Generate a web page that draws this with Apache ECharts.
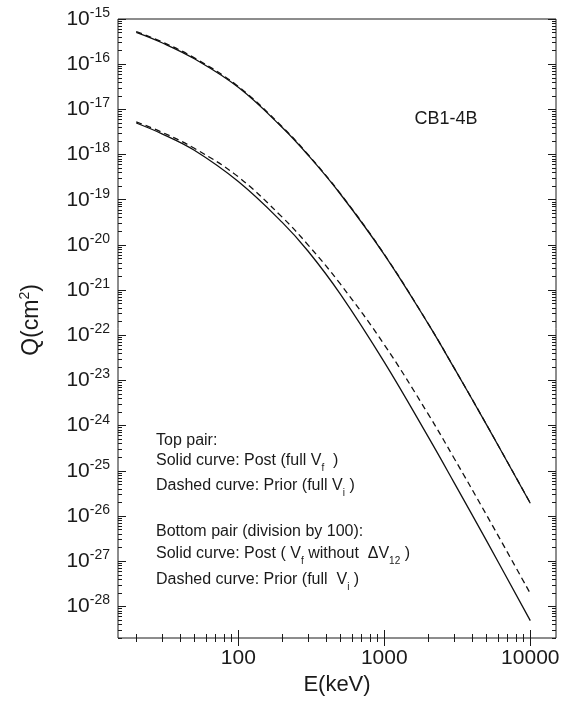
<!DOCTYPE html>
<html>
<head>
<meta charset="utf-8">
<script src="https://cdn.jsdelivr.net/npm/echarts@6/dist/echarts.min.js"></script>
<style>
  html, body { margin: 0; padding: 0; background: #fff; }
  #chart { width: 573px; height: 703px; }
</style>
</head>
<body>
<div id="chart"></div>
<script>
// ---------------- data ----------------
const energies = [20, 30, 50, 100, 200, 300, 500, 1000, 2000, 3000, 5000, 10000];
const topSolid  = [5.05e-16, 2.98e-16, 1.315e-16, 3.07e-17, 3.97e-18, 9.79e-19, 1.34e-19, 6.12e-21, 1.79e-22, 1.92e-23, 1.07e-24, 1.92e-26];
const topDashed = [5.29e-16, 3.12e-16, 1.377e-16, 3.21e-17, 4.11e-18, 1.006e-18, 1.368e-19, 6.20e-21, 1.80e-22, 1.93e-23, 1.075e-24, 1.93e-26];
const botSolid  = [4.99e-18, 2.88e-18, 1.242e-18, 2.52e-19, 3.155e-20, 7.33e-21, 8.15e-22, 2.547e-23, 5.64e-25, 5.58e-26, 2.89e-27, 4.84e-29];
const botDashed = [5.29e-18, 3.12e-18, 1.377e-18, 3.21e-19, 4.11e-20, 1.006e-20, 1.368e-21, 6.20e-23, 1.80e-24, 1.93e-25, 1.075e-26, 1.93e-28];

const xTickLabels = [100, 1000, 10000];
const xMinorDecades = [10, 100, 1000];
const yExponents = [-28, -27, -26, -25, -24, -23, -22, -21, -20, -19, -18, -17, -16, -15];
const yMinorExponents = [-29, -28, -27, -26, -25, -24, -23, -22, -21, -20, -19, -18, -17, -16];
const mantissas = [2, 3, 4, 5, 6, 7, 8, 9];

const X_MIN = 15, X_MAX = 15000, Y_MIN = 2e-29, Y_MAX = 1e-15;

// tick positions
const xMinor = [];
xMinorDecades.forEach(d => mantissas.forEach(m => { const v = m * d; if (v >= X_MIN && v <= X_MAX) xMinor.push(v); }));
const yMajor = yExponents.map(e => Number('1e' + e));
const yMinor = [];
yMinorExponents.forEach(e => mantissas.forEach(m => { const v = Number(m + 'e' + e); if (v >= Y_MIN && v <= Y_MAX) yMinor.push(v); }));

const FONT = 'Liberation Sans, Arial, Helvetica, sans-serif';
const INK = '#1a1a1a';

function xAx(pos, ticks, len, withLabels) {
  return {
    type: 'log', logBase: 10, min: X_MIN, max: X_MAX, position: pos,
    axisLine: { show: false },
    axisTick: { show: true, inside: true, length: len, customValues: ticks, lineStyle: { color: INK, width: 1 } },
    axisLabel: withLabels ? {
      show: true, customValues: xTickLabels, margin: 10,
      fontFamily: FONT, fontSize: 21, color: INK,
      formatter: v => String(Math.round(v))
    } : { show: false },
    splitLine: { show: false }, minorTick: { show: false }, minorSplitLine: { show: false },
    name: withLabels ? 'E(keV)' : '', nameLocation: 'middle', nameGap: 28,
    nameTextStyle: { fontFamily: FONT, fontSize: 22, color: INK }
  };
}
function yAx(pos, ticks, len, withLabels) {
  return {
    type: 'log', logBase: 10, min: Y_MIN, max: Y_MAX, position: pos,
    axisLine: { show: false },
    axisTick: { show: true, inside: true, length: len, customValues: ticks, lineStyle: { color: INK, width: 1 } },
    axisLabel: withLabels ? {
      show: true, customValues: yMajor, margin: 8,
      fontFamily: FONT, fontSize: 21, lineHeight: 26, color: INK,
      formatter: v => '{b|10}{s|' + Math.round(Math.log10(v)) + '}',
      rich: {
        b: { fontFamily: FONT, fontSize: 21, lineHeight: 26, color: INK },
        s: { fontFamily: FONT, fontSize: 14, lineHeight: 14, verticalAlign: 'top', color: INK }
      }
    } : { show: false },
    splitLine: { show: false }, minorTick: { show: false }, minorSplitLine: { show: false }
  };
}

function mkSeries(vals, dashed) {
  return {
    type: 'line', xAxisIndex: 0, yAxisIndex: 0,
    data: energies.map((e, i) => [e, vals[i]]),
    showSymbol: false, symbol: 'none', smooth: 0.4,
    lineStyle: { color: '#111', width: 1.3, type: dashed ? [6, 4] : 'solid' },
    silent: true, animation: false, z: 3
  };
}

const subStyle = { fontFamily: FONT, fontSize: 10, lineHeight: 10, verticalAlign: 'bottom', padding: [14, 0, 0, 0], fill: INK, color: INK };
function legendLine(text, y) {
  return {
    type: 'text', x: 156, y: y, silent: true,
    style: {
      text: text, fill: INK, fontFamily: FONT, fontSize: 16, lineHeight: 24,
      align: 'left', verticalAlign: 'middle',
      rich: { sub: subStyle }
    }
  };
}

const chart = echarts.init(document.getElementById('chart'), null, { renderer: 'canvas' });
chart.setOption({
  animation: false,
  backgroundColor: '#fff',
  grid: { left: 118, top: 19, width: 438, height: 619, show: true, borderColor: INK, borderWidth: 1, backgroundColor: 'transparent', containLabel: false },
  xAxis: [
    xAx('bottom', xTickLabels, 8, true),
    xAx('bottom', xMinor, 4, false),
    xAx('top', xTickLabels, 8, false),
    xAx('top', xMinor, 4, false)
  ],
  yAxis: [
    yAx('left', yMajor, 8, true),
    yAx('left', yMinor, 4, false),
    yAx('right', yMajor, 8, false),
    yAx('right', yMinor, 4, false)
  ],
  series: [
    mkSeries(topSolid, false),
    mkSeries(topDashed, true),
    mkSeries(botSolid, false),
    mkSeries(botDashed, true)
  ],
  graphic: { elements: [
    {
      type: 'text', x: 32, y: 320, rotation: Math.PI / 2, silent: true,
      style: {
        text: 'Q(cm{s|2})', fill: INK, fontFamily: FONT, fontSize: 23, lineHeight: 28,
        align: 'center', verticalAlign: 'middle',
        rich: { s: { fontFamily: FONT, fontSize: 14, lineHeight: 14, verticalAlign: 'top', fill: INK } }
      }
    },
    {
      type: 'text', x: 446, y: 119, silent: true,
      style: { text: 'CB1-4B', fill: INK, fontFamily: FONT, fontSize: 18, align: 'center', verticalAlign: 'middle' }
    },
    legendLine('Top pair:', 441),
    legendLine('Solid curve: Post (full V{sub|f}  )', 461),
    legendLine('Dashed curve: Prior (full V{sub|i} )', 486),
    legendLine('Bottom pair (division by 100):', 532),
    legendLine('Solid curve: Post ( V{sub|f} without  \u0394V{sub|12} )', 554),
    legendLine('Dashed curve: Prior (full  V{sub|i} )', 580)
  ]}
});
</script>
</body>
</html>
